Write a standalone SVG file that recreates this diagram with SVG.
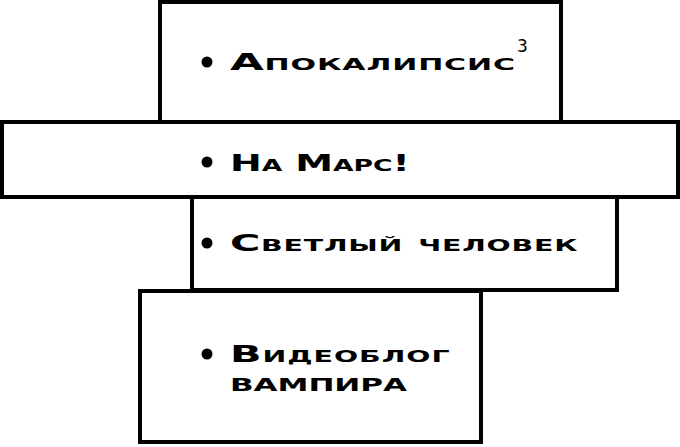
<svg xmlns="http://www.w3.org/2000/svg" width="680" height="447" viewBox="0 0 680 447">
<style>
.box{fill:#fff;stroke:#000;stroke-width:4}
.t{font-family:"DejaVu Sans",sans-serif;font-weight:bold;font-size:23px;font-variant:small-caps;fill:#000}
.sup{font-family:"DejaVu Sans",sans-serif;font-size:17px;fill:#000}
.b{fill:#000}
</style>
<rect width="680" height="447" fill="#fff"/>
<g id="node1">
<rect class="box" x="160" y="2" width="401" height="120"/>
<circle class="b" cx="207" cy="62" r="5.5"/>
<text class="t" transform="translate(230 70) scale(1.9 1)" textLength="150" lengthAdjust="spacing">Апокалипсис</text>
<text class="sup" x="517" y="52">3</text>
</g>
<g id="node2">
<rect class="box" x="2" y="122" width="676" height="75"/>
<circle class="b" cx="207" cy="162" r="5.5"/>
<text class="t" transform="translate(230 171) scale(1.65 1)" textLength="109" lengthAdjust="spacing">На Марс!</text>
</g>
<g id="node3">
<rect class="box" x="192" y="197" width="425" height="93"/>
<circle class="b" cx="207" cy="243" r="5.5"/>
<text class="t" transform="translate(230 251) scale(1.8 1)" textLength="193" lengthAdjust="spacing">Светлый человек</text>
</g>
<g id="node4">
<rect class="box" x="140" y="291" width="341" height="151"/>
<circle class="b" cx="207" cy="354" r="5.5"/>
<text class="t" transform="translate(230 362) scale(1.8 1)" textLength="122" lengthAdjust="spacing">Видеоблог</text>
<text class="t" transform="translate(230 391) scale(1.85 1)" textLength="95.7" lengthAdjust="spacing" style="font-size:24px">вампира</text>
</g>
</svg>
